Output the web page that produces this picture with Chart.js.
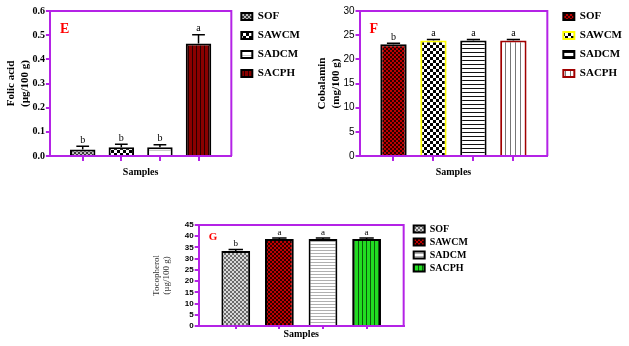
<!DOCTYPE html>
<html>
<head>
<meta charset="utf-8">
<script src="https://cdn.jsdelivr.net/npm/chart.js@4.4.1/dist/chart.umd.min.js"></script>
<style>
  body { margin: 0; background: #fff; width: 629px; height: 346px; position: relative; overflow: hidden; }
  .box { position: absolute; }
</style>
</head>
<body>
<div class="box" style="left:0;top:0;width:310px;height:187px"><canvas id="chartE"></canvas></div>
<div class="box" style="left:310px;top:0;width:322px;height:187px"><canvas id="chartF"></canvas></div>
<div class="box" style="left:150px;top:205px;width:328px;height:141px"><canvas id="chartG"></canvas></div>
<script>
const samples = ['SOF', 'SAWCM', 'SADCM', 'SACPH'];
const xPos = [0, 1, 2, 3];

const folicAcid = [0.027, 0.036, 0.036, 0.466];
const folicErr = [0.013, 0.013, 0.011, 0.036];
const folicSig = ['b', 'b', 'b', 'a'];

const cobalamin = [23.1, 23.9, 23.9, 23.9];
const cobalaminErr = [0.25, 0.2, 0.2, 0.2];
const cobalaminSig = ['b', 'a', 'a', 'a'];

const tocopherol = [33.4, 38.8, 38.8, 38.8];
const tocopherolErr = [0.7, 0.4, 0.4, 0.4];
const tocopherolSig = ['b', 'a', 'a', 'a'];

const purple = '#b423e6';
const serif = 'Liberation Serif';
const sans = 'Liberation Sans';

// small repeating fills like the prism hatches
function pattern(w, h, draw) {
  const c = document.createElement('canvas');
  c.width = w; c.height = h;
  const g = c.getContext('2d');
  draw(g, w, h);
  return g.createPattern(c, 'repeat');
}
const checker = (a, b, s) => pattern(2 * s, 2 * s, g => {
  g.fillStyle = a; g.fillRect(0, 0, 2 * s, 2 * s);
  g.fillStyle = b; g.fillRect(0, 0, s, s); g.fillRect(s, s, s, s);
});
const hLines = (bg, fg, p) => pattern(1, p, g => {
  g.fillStyle = bg; g.fillRect(0, 0, 1, p);
  g.fillStyle = fg; g.fillRect(0, 0, 1, 1);
});
const vLines = (bg, fg, p) => pattern(p, 1, g => {
  g.fillStyle = bg; g.fillRect(0, 0, p, 1);
  g.fillStyle = fg; g.fillRect(0, 0, 1, 1);
});

const decorate = {
  id: 'decorate',
  afterDatasetsDraw(chart, args, o) {
    const { ctx, chartArea: a, scales: { y } } = chart;
    ctx.save();
    chart.data.datasets.forEach((ds, i) => {
      const bar = chart.getDatasetMeta(i).data[0];
      const top = y.getPixelForValue(ds.data[0].y + o.err[i]);
      const hw = bar.width * 0.25;
      ctx.strokeStyle = '#000';
      ctx.lineWidth = 1.5;
      ctx.beginPath();
      ctx.moveTo(bar.x, bar.y);
      ctx.lineTo(bar.x, top);
      ctx.moveTo(bar.x - hw, top);
      ctx.lineTo(bar.x + hw, top);
      ctx.stroke();
      ctx.fillStyle = '#000';
      ctx.font = o.sigFont;
      ctx.textAlign = 'center';
      ctx.textBaseline = 'bottom';
      ctx.fillText(o.sig[i], bar.x, top - 1);
    });
    ctx.strokeStyle = purple;
    ctx.lineWidth = 2;
    ctx.beginPath();
    ctx.moveTo(a.left, a.top);
    ctx.lineTo(a.right, a.top);
    ctx.lineTo(a.right, a.bottom);
    ctx.stroke();
    ctx.fillStyle = '#ff0000';
    ctx.font = o.letterFont;
    ctx.textAlign = 'left';
    ctx.textBaseline = 'middle';
    ctx.fillText(o.letter, a.left + o.letterDx, a.top + o.letterDy);
    ctx.restore();
  }
};

function makeChart(id, c) {
  const datasets = samples.map((s, i) => ({
    label: s,
    data: [{ x: xPos[i], y: c.values[i] }],
    backgroundColor: c.fills[i],
    borderColor: c.borders[i],
    borderWidth: 2,
    grouped: false,
    barPercentage: 0.66,
    categoryPercentage: 1
  }));
  return new Chart(document.getElementById(id), {
    type: 'bar',
    data: { datasets },
    plugins: [decorate],
    options: {
      responsive: true,
      maintainAspectRatio: false,
      animation: false,
      layout: { padding: c.padding },
      plugins: {
        tooltip: { enabled: false },
        legend: {
          position: 'right',
          align: 'start',
          maxWidth: 120,
          labels: {
            boxWidth: 11, boxHeight: 7, padding: c.legendPad,
            color: '#000', font: { family: serif, weight: 'bold', size: c.legendSize }
          }
        },
        decorate: {
          err: c.errs, sig: c.sigs, sigFont: c.sigFont,
          letter: c.letter, letterFont: c.letterFont, letterDx: c.letterDx, letterDy: c.letterDy
        }
      },
      scales: {
        x: {
          type: 'linear',
          offset: false,
          min: -0.85, max: 3.85,
          afterBuildTicks: s => { s.ticks = xPos.map(v => ({ value: v })); },
          ticks: { display: false },
          grid: { offset: false, drawOnChartArea: false, color: purple, lineWidth: 2, tickLength: c.xTickLen },
          border: { color: purple, width: 2 },
          title: {
            display: true, text: 'Samples', color: '#000', padding: c.xTitlePad,
            font: { family: serif, weight: 'bold', size: c.xTitleSize, lineHeight: 1 }
          }
        },
        y: {
          min: 0, max: c.yMax,
          ticks: {
            stepSize: c.yStep, color: '#000', padding: 1, autoSkip: false,
            font: c.tickFont,
            callback: c.tickFmt
          },
          grid: { drawOnChartArea: false, color: purple, lineWidth: 2, tickLength: 4 },
          border: { color: purple, width: 2 },
          title: {
            display: true, text: c.yTitle, color: c.yTitleColor, padding: c.yTitlePad,
            font: c.yTitleFont
          }
        },
        // spacers: frame to legend, and above the frame
        gap: {
          position: 'right',
          afterFit: s => { s.width = c.gap; },
          ticks: { display: false },
          grid: { display: false },
          border: { display: false }
        },
        gapTop: {
          position: 'top',
          afterFit: s => { s.height = c.gapTop; },
          ticks: { display: false },
          grid: { display: false },
          border: { display: false }
        }
      }
    }
  });
}

makeChart('chartE', {
  values: folicAcid, errs: folicErr, sigs: folicSig,
  fills: [checker('#3a3a3a', '#bdbdbd', 2), checker('#000', '#fff', 3), hLines('#fff', '#c8c8c8', 5), vLines('#8b0000', '#2a0000', 4)],
  borders: ['#000', '#000', '#000', '#000'],
  yMax: 0.6, yStep: 0.1, tickFmt: v => v.toFixed(1),
  tickFont: { family: serif, weight: 'bold', size: 10 },
  yTitle: ['Folic acid', '(µg/100 g)'], yTitleColor: '#000', yTitlePad: { top: 5, bottom: 0 },
  yTitleFont: { family: serif, weight: 'bold', size: 11, lineHeight: 1.2 },
  xTitleSize: 10, xTitlePad: { top: 6, bottom: 4 }, xTickLen: 5,
  legendPad: 8, legendSize: 11, gap: 2, gapTop: 8,
  padding: { top: 3, right: 0, bottom: 6, left: 0 },
  sigFont: '10px "Liberation Serif"',
  letter: 'E', letterFont: 'bold 14px "Liberation Serif"', letterDx: 10, letterDy: 18
});

makeChart('chartF', {
  values: cobalamin, errs: cobalaminErr, sigs: cobalaminSig,
  fills: [checker('#c00000', '#2a0000', 2), checker('#000', '#fff', 3), hLines('#fff', '#111', 4), vLines('#fff', '#777', 5)],
  borders: ['#000', '#ffff00', '#000', '#a00000'],
  yMax: 30, yStep: 5, tickFmt: v => v,
  tickFont: { family: sans, size: 10 },
  yTitle: ['Cobalamin', '(mg/100 g)'], yTitleColor: '#000', yTitlePad: { top: 5, bottom: 0 },
  yTitleFont: { family: serif, weight: 'bold', size: 11, lineHeight: 1.2 },
  xTitleSize: 10, xTitlePad: { top: 6, bottom: 4 }, xTickLen: 5,
  legendPad: 8, legendSize: 11, gap: 8, gapTop: 8,
  padding: { top: 3, right: 0, bottom: 6, left: 1 },
  sigFont: '10px "Liberation Serif"',
  letter: 'F', letterFont: 'bold 14px "Liberation Serif"', letterDx: 10, letterDy: 18
});

makeChart('chartG', {
  values: tocopherol, errs: tocopherolErr, sigs: tocopherolSig,
  fills: [checker('#6a6a6a', '#d8d8d8', 2), checker('#c00000', '#2a0000', 2), hLines('#fff', '#b0b0b0', 3), vLines('#22dd22', '#0a5a0a', 4)],
  borders: ['#000', '#000', '#000', '#000'],
  yMax: 45, yStep: 5, tickFmt: v => v,
  tickFont: { family: sans, weight: 'bold', size: 8 },
  yTitle: ['Tocopherol', '(µg/100 g)'], yTitleColor: '#333', yTitlePad: { top: 0, bottom: 12 },
  yTitleFont: { family: serif, size: 9, lineHeight: 1.1 },
  xTitleSize: 10, xTitlePad: { top: 0, bottom: 2 }, xTickLen: 3,
  legendPad: 3, legendSize: 10, gap: 7, gapTop: 4,
  padding: { top: 16, right: 0, bottom: 5, left: 2 },
  sigFont: '9px "Liberation Serif"',
  letter: 'G', letterFont: 'bold 11px "Liberation Serif"', letterDx: 10, letterDy: 12
});
</script>
</body>
</html>
